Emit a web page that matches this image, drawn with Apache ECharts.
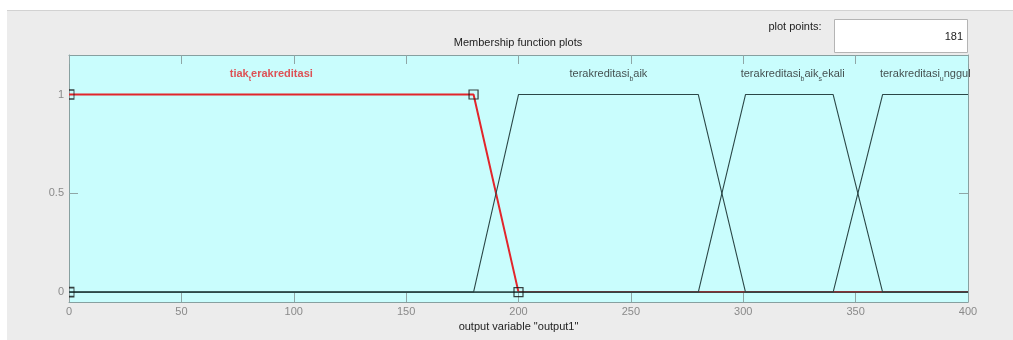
<!DOCTYPE html>
<html>
<head>
<meta charset="utf-8">
<script src="https://cdn.jsdelivr.net/npm/echarts@6/dist/echarts.min.js"></script>
<style>
html,body{margin:0;padding:0;background:#fff;}
#chart{width:1013px;height:340px;}
</style>
</head>
<body>
<div id="chart"></div>
<script>
// ---- data ----
const xRange = [0, 400];
const xTickStep = 50;
const yRange = [-0.05, 1.2];
const yTickValues = [0, 0.5, 1];
const mfNames = ['tiak_terakreditasi', 'terakreditasi_baik', 'terakreditasi_baik_sekali', 'terakreditasi_unggul'];
const mfTiak = [[0, 1], [180, 1], [200, 0], [400, 0]];
const mfBaik = [[0, 0], [180, 0], [200, 1], [280, 1], [301, 0], [400, 0]];
const mfBaikSekali = [[0, 0], [280, 0], [301, 1], [340, 1], [362, 0], [400, 0]];
const mfUnggul = [[0, 0], [340, 0], [362, 1], [400, 1]];
const tiakVertices = [[0, 0], [0, 1], [180, 1], [200, 0]];
const labelX = [90, 240, 322, 381];
const labelY = [1.1, 1.1, 1.1, 1.1];
const plotPoints = '181';
const titleText = 'Membership function plots';
const xLabelText = 'output variable "output1"';

// ---- helpers ----
function texRich(name, prefix) {
  const parts = name.split('_');
  let s = '{' + prefix + 'n|' + parts[0] + '}';
  for (let i = 1; i < parts.length; i++) {
    const p = parts[i];
    s += '{' + prefix + 's|' + p.charAt(0) + '}';
    if (p.length > 1) s += '{' + prefix + 'n|' + p.slice(1) + '}';
  }
  return s;
}
const FONT = '"Liberation Sans", Arial, sans-serif';
const BLACK = '#2b4747';
const RED = '#e2252b';
const AXIS = '#87a0a0';
const TICK = '#8fa6a6';
const halfSquare = 'path://M0,0 L5,0 L5,9 L0,9';

const labelData = labelX.map((x, i) => ({
  value: [x, labelY[i]],
  label: { formatter: texRich(mfNames[i], i === 0 ? 'r' : 'k') }
}));

const markerData = tiakVertices.map(v => v[0] === xRange[0]
  ? { value: v, symbol: halfSquare, symbolSize: [5, 9], symbolOffset: [2.5, 0] }
  : { value: v, symbol: 'rect', symbolSize: 9 });

function frameAxis(extra) {
  return Object.assign({
    type: 'value',
    axisLine: { show: true, onZero: false, lineStyle: { color: AXIS, width: 1 } },
    axisTick: { show: true, inside: true, length: 9, lineStyle: { color: TICK } },
    axisLabel: { show: false },
    splitLine: { show: false }
  }, extra);
}

const chart = echarts.init(document.getElementById('chart'), null, { renderer: 'canvas' });
chart.setOption({
  animation: false,
  backgroundColor: '#ececec',
  textStyle: { fontFamily: FONT },
  grid: {
    left: 69, right: 45, top: 55, bottom: 38,
    show: true, backgroundColor: '#c9fdfd', borderWidth: 0,
    containLabel: false, outerBoundsMode: 'none'
  },
  graphic: [
    { type: 'rect', shape: { x: 0, y: 0, width: 1013, height: 10 }, style: { fill: '#ffffff' }, silent: true },
    { type: 'rect', shape: { x: 0, y: 0, width: 7, height: 340 }, style: { fill: '#ffffff' }, silent: true },
    { type: 'line', shape: { x1: 7, y1: 10.5, x2: 1013, y2: 10.5 }, style: { stroke: '#d2d2d2', lineWidth: 1 }, silent: true },
    { type: 'rect', shape: { x: 834.5, y: 19.5, width: 133, height: 33 }, style: { fill: '#ffffff', stroke: '#b4b4b4', lineWidth: 1 }, silent: true },
    { type: 'text', x: 795, y: 27, style: { text: 'plot points:', font: '11px ' + FONT, fill: '#222', align: 'center', verticalAlign: 'middle' }, silent: true },
    { type: 'text', x: 963, y: 37, style: { text: plotPoints, font: '11px ' + FONT, fill: '#222', align: 'right', verticalAlign: 'middle' }, silent: true },
    { type: 'text', x: 518, y: 43, style: { text: titleText, font: '11px ' + FONT, fill: '#222', align: 'center', verticalAlign: 'middle' }, silent: true }
  ],
  xAxis: [
    frameAxis({
      position: 'bottom', min: xRange[0], max: xRange[1], interval: xTickStep,
      name: xLabelText, nameLocation: 'middle', nameGap: 18,
      nameTextStyle: { color: '#222', fontSize: 11, fontFamily: FONT },
      axisLabel: { show: true, color: '#8a8a8a', fontSize: 11, margin: 4, fontFamily: FONT }
    }),
    frameAxis({ position: 'top', min: xRange[0], max: xRange[1], interval: xTickStep })
  ],
  yAxis: [
    frameAxis({
      position: 'left', min: yRange[0], max: yRange[1],
      axisTick: { show: true, inside: true, length: 9, customValues: yTickValues, lineStyle: { color: TICK } },
      axisLabel: { show: true, customValues: yTickValues, color: '#8a8a8a', fontSize: 11, margin: 5, fontFamily: FONT,
        formatter: v => String(v) }
    }),
    frameAxis({
      position: 'right', min: yRange[0], max: yRange[1],
      axisTick: { show: true, inside: true, length: 9, customValues: yTickValues, lineStyle: { color: TICK } }
    })
  ],
  series: [
    { type: 'line', data: mfTiak, showSymbol: false, symbol: 'none', z: 2,
      lineStyle: { color: RED, width: 2 }, silent: true },
    { type: 'line', data: mfBaik, showSymbol: false, symbol: 'none', z: 3,
      lineStyle: { color: BLACK, width: 1.1 }, silent: true },
    { type: 'line', data: mfBaikSekali, showSymbol: false, symbol: 'none', z: 3,
      lineStyle: { color: BLACK, width: 1.1 }, silent: true },
    { type: 'line', data: mfUnggul, showSymbol: false, symbol: 'none', z: 3,
      lineStyle: { color: BLACK, width: 1.1 }, silent: true },
    { type: 'scatter', data: markerData, z: 4, clip: false, silent: true,
      itemStyle: { color: 'rgba(0,0,0,0)', borderColor: '#111', borderWidth: 1.2 } },
    { type: 'scatter', data: labelData, symbolSize: 0, z: 5, silent: true,
      label: {
        show: true, position: 'inside',
        rich: {
          kn: { fontSize: 11, color: '#1e1e1e', lineHeight: 13, verticalAlign: 'top', fontFamily: FONT },
          ks: { fontSize: 7, color: '#1e1e1e', lineHeight: 8, padding: [7, 0, 0, 0], verticalAlign: 'top', fontFamily: FONT },
          rn: { fontSize: 11, color: RED, fontWeight: 'bold', lineHeight: 13, verticalAlign: 'top', fontFamily: FONT },
          rs: { fontSize: 7, color: RED, fontWeight: 'bold', lineHeight: 8, padding: [7, 0, 0, 0], verticalAlign: 'top', fontFamily: FONT }
        }
      } }
  ]
});
</script>
</body>
</html>
